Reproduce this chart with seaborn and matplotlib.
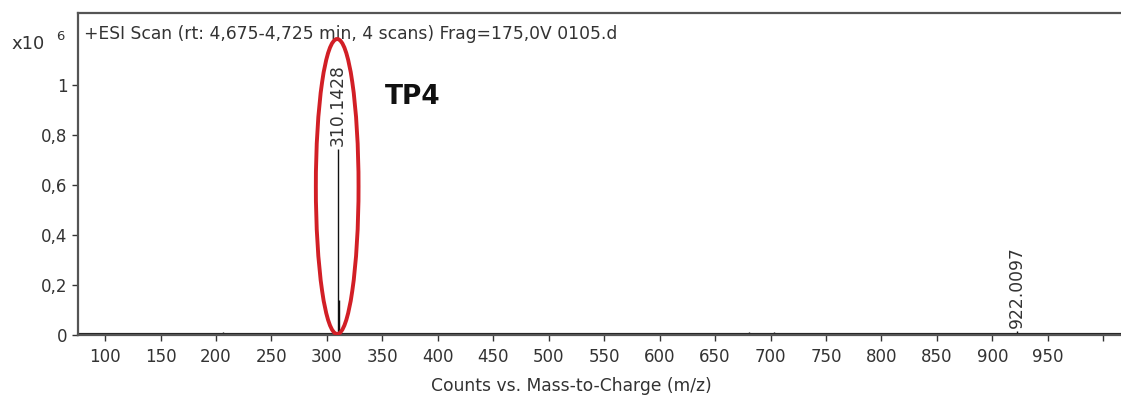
import numpy as np
import pandas as pd
import matplotlib
matplotlib.use("Agg")
import matplotlib.pyplot as plt
from matplotlib.patches import Ellipse
import seaborn as sns

# Centroided peaks (m/z, counts in units of 1e6)
main_mz = [310.1428, 311.1460, 922.0097]
main_counts = [0.745, 0.14, 0.018]
labelled_mz = [310.1428, 922.0097]
labelled_counts = [0.745, 0.018]
labelled_text = ["310.1428", "922.0097"]

# Low-level background ions along the baseline
noise_mz = [104, 112, 121, 133, 146, 158, 167, 179, 188, 197, 206, 214, 223, 236,
            245, 257, 266, 279, 288, 297, 322, 334, 347, 358, 371, 383, 396, 409,
            421, 437, 452, 466, 481, 497, 512, 529, 544, 561, 577, 593, 609, 626,
            641, 655, 668, 681, 694, 703, 717, 731, 745, 758, 772, 783, 797, 811,
            822, 836, 851, 866, 879, 893, 905, 938, 951, 967, 984, 998]
noise_counts = [0.006, 0.008, 0.005, 0.007, 0.009, 0.006, 0.008, 0.010, 0.007, 0.009,
                0.011, 0.008, 0.007, 0.006, 0.009, 0.008, 0.010, 0.007, 0.006, 0.008,
                0.009, 0.007, 0.006, 0.008, 0.007, 0.009, 0.006, 0.008, 0.007, 0.006,
                0.008, 0.005, 0.007, 0.006, 0.008, 0.005, 0.007, 0.006, 0.005, 0.007,
                0.009, 0.006, 0.010, 0.008, 0.009, 0.011, 0.007, 0.012, 0.008, 0.006,
                0.009, 0.005, 0.007, 0.010, 0.006, 0.005, 0.008, 0.006, 0.007, 0.005,
                0.006, 0.005, 0.007, 0.006, 0.008, 0.005, 0.006, 0.005]

xticks = list(range(100, 1001, 50))
xtick_labels = [str(t) if t < 1000 else "" for t in xticks]
yticks = [0, 0.2, 0.4, 0.6, 0.8, 1.0]
ytick_labels = ["0", "0,2", "0,4", "0,6", "0,8", "1"]

title_text = "+ESI Scan (rt: 4,675-4,725 min, 4 scans) Frag=175,0V 0105.d"
compound = "TP4"
xlabel = "Counts vs. Mass-to-Charge (m/z)"

sns.set_style("ticks")
plt.rcParams["font.family"] = ["DejaVu Sans"]

FS = 12
TXT = "#333333"

spec = pd.DataFrame({"mz": main_mz + noise_mz, "counts": main_counts + noise_counts})

fig = plt.figure(figsize=(11.21, 4.01), dpi=100)
ax = fig.add_axes([78 / 1121, 1 - 335 / 401, 1 - 78 / 1121, (335 - 13) / 401])

# Stick spectrum
ax.vlines(spec["mz"], 0, spec["counts"], color="#111111", linewidth=1.0)
sns.lineplot(x=[75, 1020], y=[0, 0], ax=ax, color="#222222", linewidth=3.0)

ax.set_xlim(75.6, 1016)
ax.set_ylim(0, 1.288)

for mz, c, txt in zip(labelled_mz, labelled_counts, labelled_text):
    ax.text(mz, c + 0.012, txt, rotation=90, ha="center", va="bottom",
            fontsize=12.3, color=TXT)

ax.text(352.5, 0.952, compound, fontsize=19, fontweight="bold", color="#111111",
        ha="left", va="center")

# Highlight ellipse around the base peak
ax.add_patch(Ellipse((309.3, 0.594), width=38.5, height=1.18, fill=False,
                     edgecolor="#d21f26", linewidth=2.8, zorder=5))

ax.text(0.006, 0.935, title_text, transform=ax.transAxes, fontsize=12.3,
        color=TXT, ha="left", va="center")
fig.text(11 / 1121, 1 - 44 / 401, "x10", fontsize=13, color=TXT,
         ha="left", va="center")
fig.text(56 / 1121, 1 - 37 / 401, "6", fontsize=9.5, color=TXT,
         ha="left", va="center")

ax.set_xticks(xticks)
ax.set_xticklabels(xtick_labels)
ax.set_yticks(yticks)
ax.set_yticklabels(ytick_labels)
ax.tick_params(axis="both", labelsize=FS, colors=TXT, length=4, width=1.0)
ax.tick_params(axis="x", pad=5)
ax.set_xlabel(xlabel, fontsize=12.3, color=TXT)
ax.xaxis.set_label_coords(0.473, -0.13)

for side in ["left", "bottom", "top"]:
    ax.spines[side].set_color("#555555")
    ax.spines[side].set_linewidth(1.6)
ax.spines["right"].set_visible(False)

fig.savefig("out.png", dpi=100)
